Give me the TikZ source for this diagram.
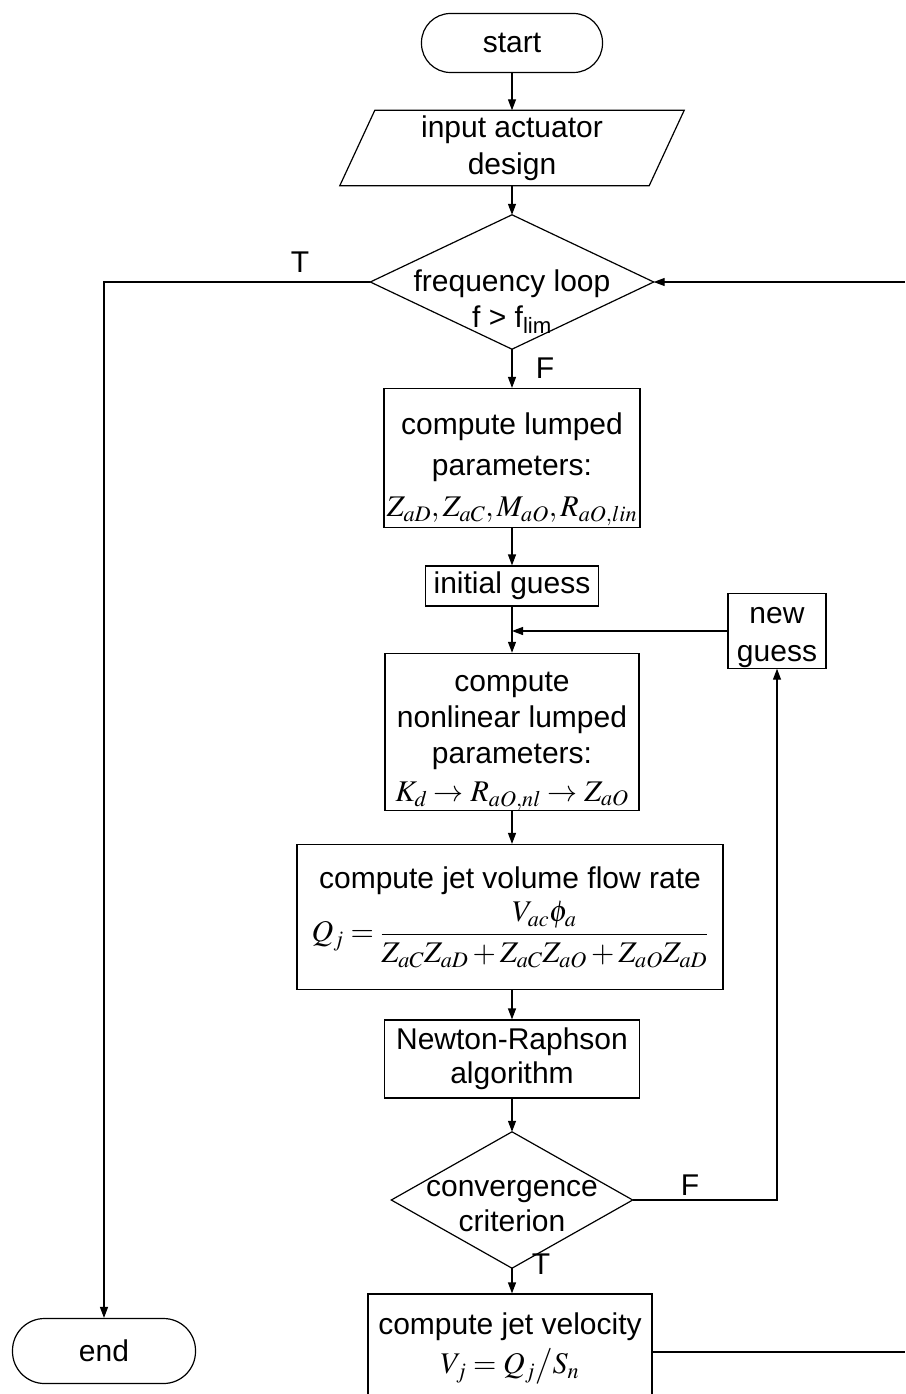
\documentclass[tikz,border=0pt]{standalone}
\usepackage{amsmath}
\usepackage{mathptmx}
\usepackage[no-math]{fontspec}
\setmainfont{Liberation Sans}
\usetikzlibrary{arrows.meta}
\tikzset{
  ln/.style={line width=1.2pt},
  arr/.style={line width=1.2pt,-{Triangle[length=11pt,width=8pt]}},
  txt/.style={align=center,inner sep=0pt,font=\fontsize{30}{36}\selectfont},
  box/.style={txt,draw,line width=1.2pt},
  ghost/.style={txt,draw=none},
  lbl/.style={inner sep=0pt,font=\fontsize{30}{36}\selectfont},
}
\begin{document}
\begin{tikzpicture}[x=1pt,y=-1pt]
\clip (0,0) rectangle (905,1394);
\fill[white] (0,0) rectangle (905,1394);
% start
\node[box,rounded corners=29pt,minimum width=181pt,minimum height=59pt] (start) at (512,43) {start};
% input parallelogram
\node[ghost,minimum width=309pt,minimum height=75pt,font=\fontsize{30}{37}\selectfont] (inp) at (512,148) {input actuator\\design};
\draw[ln] ([xshift=17.5pt]inp.north west) -- ([xshift=17.5pt]inp.north east)
  -- ([xshift=-17.5pt]inp.south east) -- ([xshift=-17.5pt]inp.south west) -- cycle;
% frequency diamond
\node[ghost,minimum width=283pt,minimum height=134pt] (d1) at (512,282) {};
\draw[ln] (d1.north) -- (d1.east) -- (d1.south) -- (d1.west) -- cycle;
\node[txt] (d1t) at (512,302) {frequency loop\\f > f\textsubscript{lim}};
% lumped
\node[box,minimum width=256pt,minimum height=139pt,font=\fontsize{30}{41}\selectfont] (lump) at (512,458) {\rule{0pt}{45pt}compute lumped\\parameters:\\$Z_{aD},Z_{aC},M_{aO},R_{aO,lin}$};
% initial guess
\node[box,minimum width=173pt,minimum height=40pt] (init) at (512,586) {initial guess};
% new guess
\node[box,minimum width=98pt,minimum height=71pt,font=\fontsize{30}{38}\selectfont] (ng) at (777,631) {\rule{0pt}{30pt}new\\guess};
% nonlinear
\node[box,minimum width=254pt,minimum height=155pt] (nl) at (512,732) {\rule{0pt}{38pt}compute\\nonlinear lumped\\parameters:\\[2pt]$K_d\rightarrow R_{aO,nl}\rightarrow Z_{aO}$};
% flow rate
\node[box,minimum width=426pt,minimum height=145pt] (flow) at (510,917) {compute jet volume flow rate\\[6pt]$Q_j=\dfrac{V_{ac}\phi_a}{Z_{aC}Z_{aD}+Z_{aC}Z_{aO}+Z_{aO}Z_{aD}}$};
% Newton-Raphson
\node[box,minimum width=255pt,minimum height=78pt,font=\fontsize{30}{34}\selectfont] (nr) at (512,1059) {Newton-Raphson\\algorithm};
% convergence diamond
\node[ghost,minimum width=241pt,minimum height=136pt] (d2) at (512,1200) {};
\draw[ln] (d2.north) -- (d2.east) -- (d2.south) -- (d2.west) -- cycle;
\node[txt,font=\fontsize{30}{35}\selectfont] (d2t) at (512,1206) {convergence\\criterion};
% jet velocity
\node[box,minimum width=284pt,minimum height=116pt] (vel) at (510,1352) {};
\node[txt,anchor=north,font=\fontsize{30}{39}\selectfont] (velt) at (510,1313) {compute jet velocity\\$V_j=Q_j\big/S_n$};
% end
\node[box,rounded corners=32pt,minimum width=183pt,minimum height=65pt] (end) at (104,1351) {end};
% off-page coordinates
\coordinate (rin) at (905,282);
\coordinate (rout) at (905,1352);
% connectors
\draw[arr] (start) -- (start.south |- inp.north);
\draw[arr] (inp.south) -- (d1.north);
\draw[arr] (d1.west) -| (end.north);
\node[lbl] (tl1) at (300,262) {T};
\draw[arr] (rin) -- (d1.east);
\draw[arr] (d1.south) -- (lump.north);
\node[lbl] (fl1) at (545,368) {F};
\draw[arr] (lump.south) -- (init.north);
\draw[arr] (init.south) -- (nl.north);
\draw[arr] (ng.west) -- (ng.west -| nl.north);
\draw[arr] (nl.south) -- (nl.south |- flow.north);
\draw[arr] (nl.south |- flow.south) -- (nl.south |- nr.north);
\draw[arr] (nr.south) -- (d2.north);
\draw[arr] (d2.east) -| (ng.south);
\node[lbl] (fl2) at (690,1185) {F};
\draw[arr] (d2.south) -- (d2.south |- vel.north);
\node[lbl] (tl2) at (541,1264) {T};
\draw[ln] (vel.east) -- (rout);
\end{tikzpicture}
\end{document}
